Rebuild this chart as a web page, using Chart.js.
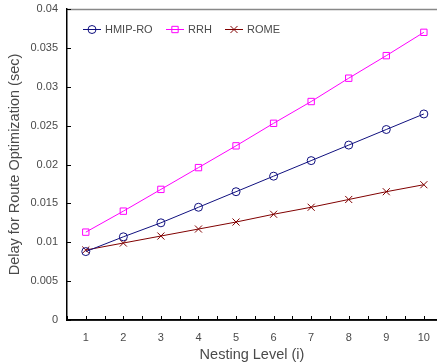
<!DOCTYPE html>
<html>
<head>
<meta charset="utf-8">
<script src="https://cdn.jsdelivr.net/npm/chart.js@4"></script>
<style>
  html, body { margin: 0; padding: 0; background: #fff; }
  #wrap { width: 437px; height: 364px; position: relative; }
</style>
</head>
<body>
<div id="wrap"><canvas id="chart"></canvas></div>
<script>
const levels = [1, 2, 3, 4, 5, 6, 7, 8, 9, 10];
const hmipRo = [0.0088, 0.0107, 0.0125, 0.0145, 0.0165, 0.0185, 0.0205, 0.0225, 0.0245, 0.0265];
const rrh = [0.0113, 0.0140, 0.0168, 0.0196, 0.0224, 0.0253, 0.0281, 0.0311, 0.0340, 0.0370];
const rome = [0.0090, 0.0099, 0.0108, 0.0117, 0.0126, 0.0136, 0.0145, 0.0155, 0.0165, 0.0174];
const xTickValues = [0.5, 1, 1.5, 2, 2.5, 3, 3.5, 4, 4.5, 5, 5.5, 6, 6.5, 7, 7.5, 8, 8.5, 9, 9.5, 10];
const seriesNames = ["HMIP-RO", "RRH", "ROME"];
const seriesColors = ["#10107f", "#ff00ff", "#800000"];
const seriesMarkers = ["circle", "rect", "crossRot"];

const fontName = "'Liberation Sans', Arial, sans-serif";
const textColor = "#4a4a4a";

function toPoints(values) {
  return levels.map((x, i) => ({ x: x, y: values[i] }));
}

const allSeries = [hmipRo, rrh, rome];
const datasets = allSeries.map((vals, i) => ({
  label: seriesNames[i],
  data: toPoints(vals),
  borderColor: seriesColors[i],
  borderWidth: 1,
  pointStyle: seriesMarkers[i],
  pointRadius: i === 1 ? 4.5 : (i === 2 ? 5 : 4),
  pointBorderColor: seriesColors[i],
  pointBackgroundColor: "rgba(0,0,0,0)",
  pointBorderWidth: 1,
  tension: 0
}));

// the plot runs right up to the canvas edge (no right frame in the original)
const stretchPlugin = {
  id: "stretch",
  afterLayout(chart) {
    const xs = chart.scales.x;
    xs.right = chart.width;
    xs.width = xs.right - xs.left;
    xs.configure();
    chart.chartArea.right = chart.width;
    chart.chartArea.width = chart.chartArea.right - chart.chartArea.left;
  }
};

// inward ticks, top frame line, and the in-plot legend
const framePlugin = {
  id: "frame",
  afterDraw(chart) {
    const ctx = chart.ctx;
    const area = chart.chartArea;
    const xs = chart.scales.x;
    const ys = chart.scales.y;
    ctx.save();
    ctx.strokeStyle = "#888";
    ctx.lineWidth = 1.5;
    ctx.beginPath();
    ctx.moveTo(area.left, area.top + 0.5);
    ctx.lineTo(chart.width, area.top + 0.5);
    ctx.stroke();

    ctx.strokeStyle = "#000";
    ctx.beginPath();
    ctx.moveTo(area.left, area.bottom);
    ctx.lineTo(chart.width, area.bottom);
    ctx.stroke();

    ctx.lineWidth = 1;
    ctx.beginPath();
    xTickValues.forEach(v => {
      const px = Math.round(xs.getPixelForValue(v)) + 0.5;
      ctx.moveTo(px, area.bottom);
      ctx.lineTo(px, area.bottom - 4);
    });
    ys.ticks.forEach(t => {
      const py = Math.round(ys.getPixelForValue(t.value)) + 0.5;
      ctx.moveTo(area.left, py);
      ctx.lineTo(area.left + 4, py);
    });
    ctx.stroke();

    // legend
    const legendX = [83, 166, 225];
    const legendY = 29;
    chart.data.datasets.forEach((ds, i) => {
      const x0 = legendX[i];
      ctx.strokeStyle = ds.borderColor;
      ctx.fillStyle = "rgba(0,0,0,0)";
      ctx.lineWidth = 1;
      ctx.beginPath();
      ctx.moveTo(x0, legendY + 0.5);
      ctx.lineTo(x0 + 18, legendY + 0.5);
      ctx.stroke();
      Chart.helpers.drawPoint(ctx, {
        pointStyle: ds.pointStyle,
        radius: ds.pointRadius,
        borderWidth: 1
      }, x0 + 9, legendY + 0.5);
      ctx.fillStyle = textColor;
      ctx.font = "11px " + fontName;
      ctx.textBaseline = "middle";
      ctx.textAlign = "left";
      ctx.fillText(ds.label, x0 + 22, legendY + 1);
    });
    ctx.restore();
  }
};

new Chart(document.getElementById("chart"), {
  type: "line",
  data: { datasets: datasets },
  options: {
    responsive: true,
    maintainAspectRatio: false,
    animation: false,
    layout: { padding: { top: 9, right: 0, left: 0, bottom: 0 } },
    plugins: {
      legend: { display: false },
      tooltip: { enabled: false }
    },
    scales: {
      x: {
        type: "linear",
        min: 0.5,
        max: 10.35,
        afterBuildTicks(scale) { scale.ticks = xTickValues.map(v => ({ value: v })); },
        afterFit(scale) {
          scale.height = 44;
          scale.paddingLeft = 0;
          scale.paddingRight = 0;
        },
        grid: { display: true, drawOnChartArea: false, drawTicks: false, color: "#000" },
        border: { display: true, color: "#000", width: 1.5 },
        ticks: {
          autoSkip: false,
          maxRotation: 0,
          padding: 11,
          color: textColor,
          font: { family: fontName, size: 11 },
          callback: v => Number.isInteger(v) ? String(v) : ""
        },
        title: {
          display: true,
          text: "Nesting Level (i)",
          color: textColor,
          font: { family: fontName, size: 14.5 },
          padding: { top: 0, bottom: 0 }
        }
      },
      y: {
        min: 0,
        max: 0.04,
        afterFit(scale) {
          scale.width = 67;
          scale.paddingTop = 0;
          scale.paddingBottom = 0;
        },
        grid: { display: true, drawOnChartArea: false, drawTicks: false, color: "#000" },
        border: { display: true, color: "#000", width: 1.5 },
        ticks: {
          stepSize: 0.005,
          padding: 9,
          color: textColor,
          font: { family: fontName, size: 11 },
          callback: v => String(parseFloat(v.toFixed(3)))
        },
        title: {
          display: true,
          text: "Delay for Route Optimization (sec)",
          color: textColor,
          font: { family: fontName, size: 14.5 },
          padding: { top: 6, bottom: 4 }
        }
      }
    }
  },
  plugins: [stretchPlugin, framePlugin]
});
</script>
</body>
</html>
